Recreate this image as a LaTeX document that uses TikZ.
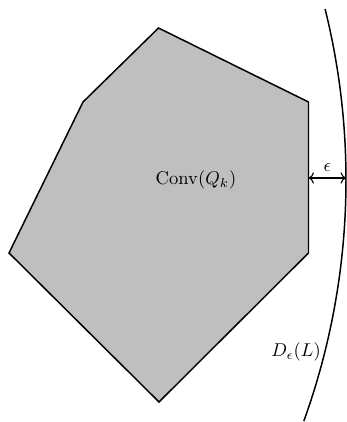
\documentclass[tikz,border=0pt]{standalone}
\usepackage{amsmath}
\usepackage{xcolor}
\usepackage{tikz}
\usetikzlibrary{arrows.meta, calc}

\begin{document}
\begin{tikzpicture}[x=0.019cm, y=0.019cm]
  \useasboundingbox (0,0) rectangle (346,422);

  % Convex hull
  \coordinate (p1) at (158.5,394);
  \coordinate (p2) at (308.5,320);
  \coordinate (p3) at (308.5,169);
  \coordinate (p4) at (159,20);
  \coordinate (p5) at (9,169);
  \coordinate (p6) at (83,320);
  \draw[thick, fill=lightgray] (p1) -- (p2) -- (p3) -- (p4) -- (p5) -- (p6) -- cycle;
  \node (conv) at (196,242) {$\mathrm{Conv}(Q_k)$};

  % Boundary of the neighbourhood
  \coordinate (ctr) at (-364,242);
  \draw[thick] (ctr) ++(13.94:710) arc[start angle=13.94, end angle=-19.84, radius=13.49cm];
  \node (disk) at (296,70) {$D_\epsilon(L)$};

  % Distance epsilon
  \coordinate (eL) at (308.5,244);
  \coordinate (eR) at (346,244);
  \draw[<->, semithick] (eL) -- node[above] (eps) {$\epsilon$} (eR);
\end{tikzpicture}
\end{document}
